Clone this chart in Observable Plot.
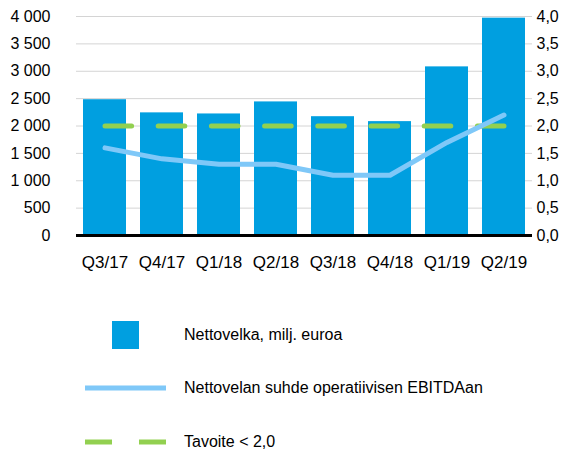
<!DOCTYPE html>
<html>
<head>
<meta charset="utf-8">
<script src="https://cdn.jsdelivr.net/npm/d3@7"></script>
<script src="https://cdn.jsdelivr.net/npm/@observablehq/plot@0.6"></script>
<style>
  body { margin: 0; background: #fff; font-family: "Liberation Sans", Arial, sans-serif; }
  #wrap { position: relative; width: 562px; height: 452px; }
  #legend { position: absolute; left: 0; top: 290px; width: 562px; height: 162px; }
  .lt { position: absolute; left: 184px; font-size: 16px; color: #000; line-height: 18px; }
</style>
</head>
<body>
<div id="wrap">
  <div id="chart"></div>
  <div id="legend">
    <svg width="562" height="162" style="position:absolute;left:0;top:0">
      <rect x="112" y="31" width="27" height="28" fill="#009FE0"></rect>
      <line x1="85" x2="166" y1="98" y2="98" stroke="#7FC8F8" stroke-width="5"></line>
      <line x1="85" x2="112" y1="152" y2="152" stroke="#92D050" stroke-width="5"></line>
      <line x1="139" x2="166" y1="152" y2="152" stroke="#92D050" stroke-width="5"></line>
    </svg>
    <div class="lt" style="top:36px">Nettovelka, milj. euroa</div>
    <div class="lt" style="top:89px">Nettovelan suhde operatiivisen EBITDAan</div>
    <div class="lt" style="top:143px">Tavoite &lt; 2,0</div>
  </div>
</div>
<script>
const quarters = ["Q3/17","Q4/17","Q1/18","Q2/18","Q3/18","Q4/18","Q1/19","Q2/19"];
const netDebt = [2480, 2240, 2220, 2440, 2170, 2080, 3080, 3970];
const ratio = [1.6, 1.4, 1.3, 1.3, 1.1, 1.1, 1.7, 2.2];
const target = [2.0, 2.0, 2.0, 2.0, 2.0, 2.0, 2.0, 2.0];
const leftTicks = [0, 500, 1000, 1500, 2000, 2500, 3000, 3500, 4000];

const RATIO_SCALE = 1000; // right axis 4,0 corresponds to left 4 000

const bars = quarters.map((q, i) => ({q, v: netDebt[i]}));
const line = quarters.map((q, i) => ({q, v: ratio[i] * RATIO_SCALE}));
const tgt = quarters.map((q, i) => ({q, v: target[i] * RATIO_SCALE}));

const fmtLeft = d => d >= 1000 ? `${Math.floor(d/1000)} ${String(d % 1000).padStart(3, "0")}` : String(d);
const fmtRight = d => (d / RATIO_SCALE).toFixed(1).replace(".", ",");

const chart = Plot.plot({
  width: 562,
  height: 290,
  marginLeft: 76,
  marginRight: 30,
  marginTop: 16,
  marginBottom: 55,
  style: {fontFamily: "Liberation Sans, Arial, sans-serif", fontSize: "16px", color: "#000", background: "#fff"},
  x: {domain: quarters, paddingInner: 0.25, paddingOuter: 0.125, label: null},
  y: {domain: [0, 4000], label: null},
  marks: [
    Plot.ruleY(leftTicks.filter(d => d > 0), {stroke: "#d4d4d4", strokeWidth: 1}),
    Plot.barY(bars, {x: "q", y: "v", fill: "#009FE0"}),
    Plot.line(tgt, {x: "q", y: "v", stroke: "#92D050", strokeWidth: 5, strokeDasharray: "26.6,26.6"}),
    Plot.line(line, {x: "q", y: "v", stroke: "#7FC8F8", strokeWidth: 5, strokeLinejoin: "round"}),
    Plot.ruleY([0], {stroke: "#000", strokeWidth: 3}),
    Plot.axisY(leftTicks, {anchor: "left", tickSize: 0, tickPadding: 26, tickFormat: fmtLeft, fontSize: 16, label: null}),
    Plot.axisY(leftTicks, {anchor: "right", tickSize: 0, tickPadding: 4, tickFormat: fmtRight, fontSize: 16, label: null}),
    Plot.axisX({tickSize: 0, tickPadding: 20, fontSize: 17, label: null})
  ]
});
document.getElementById("chart").appendChild(chart);
</script>
</body>
</html>
